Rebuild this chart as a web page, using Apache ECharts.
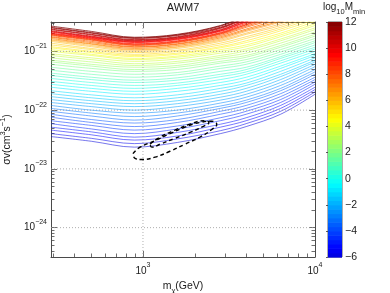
<!DOCTYPE html>
<html><head><meta charset="utf-8">
<script src="https://cdn.jsdelivr.net/npm/echarts@6/dist/echarts.min.js"></script>
<style>html,body{margin:0;padding:0;background:#fff}#c{width:390px;height:293px}</style>
</head><body><div id="c"></div>
<script>
// ---- data (log10 of sigma v in cm^3 s^-1), one array per m_chi column ----
const mChiGeV = [292, 501, 891, 1585, 2818, 3981, 6310, 10000];
const levels = [-6.00,-5.67,-5.33,-5.00,-4.67,-4.33,-4.00,-3.67,-3.33,-3.00,-2.67,-2.33,-2.00,-1.67,-1.33,-1.00,-0.67,-0.33,0.00,0.33,0.67,1.00,1.33,1.67,2.00,2.33,2.67,3.00,3.33,3.67,4.00,4.33,4.67,5.00,5.33,5.67,6.00,6.33,6.67,7.00,7.33,7.67,8.00,8.33,8.67,9.00,9.33,9.67,10.00,10.33,10.67,11.00,11.33,11.67,12.00];
const logSv_m292 = [-22.45,-22.40,-22.34,-22.29,-22.23,-22.18,-22.12,-22.07,-22.02,-21.97,-21.92,-21.87,-21.82,-21.77,-21.72,-21.67,-21.61,-21.56,-21.51,-21.46,-21.41,-21.37,-21.32,-21.27,-21.22,-21.18,-21.15,-21.11,-21.07,-21.04,-21.00,-20.97,-20.94,-20.92,-20.89,-20.86,-20.83,-20.81,-20.80,-20.78,-20.76,-20.75,-20.73,-20.72,-20.71,-20.70,-20.69,-20.67,-20.66,-20.65,-20.63,-20.62,-20.60,-20.59,-20.57];
const logSv_m501 = [-22.53,-22.48,-22.42,-22.37,-22.32,-22.26,-22.21,-22.16,-22.10,-22.05,-22.00,-21.94,-21.89,-21.84,-21.79,-21.74,-21.68,-21.63,-21.58,-21.53,-21.48,-21.44,-21.39,-21.34,-21.29,-21.25,-21.22,-21.18,-21.14,-21.11,-21.07,-21.05,-21.02,-21.00,-20.97,-20.95,-20.92,-20.90,-20.88,-20.87,-20.85,-20.83,-20.81,-20.80,-20.79,-20.78,-20.77,-20.76,-20.75,-20.74,-20.72,-20.71,-20.69,-20.68,-20.66];
const logSv_m891 = [-22.63,-22.57,-22.51,-22.46,-22.40,-22.34,-22.28,-22.22,-22.17,-22.11,-22.05,-22.00,-21.94,-21.89,-21.84,-21.79,-21.73,-21.68,-21.63,-21.58,-21.53,-21.49,-21.44,-21.39,-21.34,-21.31,-21.27,-21.24,-21.21,-21.17,-21.14,-21.12,-21.09,-21.07,-21.05,-21.02,-21.00,-20.98,-20.97,-20.95,-20.93,-20.92,-20.90,-20.89,-20.88,-20.87,-20.85,-20.84,-20.83,-20.82,-20.81,-20.80,-20.78,-20.77,-20.76];
const logSv_m1585 = [-22.55,-22.49,-22.44,-22.38,-22.32,-22.27,-22.21,-22.16,-22.10,-22.05,-22.00,-21.94,-21.89,-21.84,-21.79,-21.74,-21.68,-21.63,-21.58,-21.54,-21.49,-21.45,-21.40,-21.36,-21.31,-21.27,-21.24,-21.20,-21.17,-21.13,-21.10,-21.08,-21.05,-21.03,-21.00,-20.98,-20.95,-20.93,-20.92,-20.90,-20.88,-20.87,-20.85,-20.84,-20.83,-20.82,-20.80,-20.79,-20.78,-20.77,-20.76,-20.75,-20.73,-20.72,-20.71];
const logSv_m2818 = [-22.40,-22.35,-22.29,-22.24,-22.18,-22.13,-22.07,-22.02,-21.97,-21.93,-21.88,-21.83,-21.78,-21.73,-21.68,-21.63,-21.58,-21.53,-21.48,-21.43,-21.39,-21.34,-21.29,-21.25,-21.20,-21.17,-21.13,-21.10,-21.07,-21.03,-21.00,-20.97,-20.94,-20.92,-20.89,-20.86,-20.83,-20.81,-20.79,-20.77,-20.75,-20.73,-20.71,-20.70,-20.69,-20.68,-20.66,-20.65,-20.64,-20.63,-20.61,-20.60,-20.59,-20.57,-20.56];
const logSv_m3981 = [-22.28,-22.23,-22.18,-22.13,-22.07,-22.02,-21.97,-21.92,-21.87,-21.83,-21.78,-21.73,-21.68,-21.63,-21.58,-21.54,-21.49,-21.44,-21.39,-21.35,-21.31,-21.27,-21.22,-21.18,-21.14,-21.10,-21.07,-21.03,-20.99,-20.96,-20.92,-20.89,-20.85,-20.82,-20.78,-20.75,-20.71,-20.69,-20.66,-20.64,-20.62,-20.59,-20.57,-20.55,-20.54,-20.52,-20.50,-20.49,-20.47,-20.46,-20.44,-20.43,-20.42,-20.40,-20.39];
const logSv_m6310 = [-22.07,-22.02,-21.97,-21.92,-21.87,-21.82,-21.77,-21.72,-21.67,-21.63,-21.58,-21.53,-21.48,-21.43,-21.39,-21.34,-21.29,-21.25,-21.20,-21.16,-21.12,-21.09,-21.05,-21.01,-20.97,-20.93,-20.90,-20.86,-20.82,-20.79,-20.75,-20.72,-20.69,-20.65,-20.62,-20.59,-20.56,-20.53,-20.50,-20.48,-20.45,-20.42,-20.39,-20.37,-20.34,-20.32,-20.30,-20.27,-20.25,-20.23,-20.22,-20.20,-20.18,-20.17,-20.15];
const logSv_m10000 = [-21.73,-21.69,-21.65,-21.61,-21.56,-21.52,-21.48,-21.44,-21.39,-21.35,-21.31,-21.26,-21.22,-21.18,-21.15,-21.11,-21.07,-21.04,-21.00,-20.96,-20.93,-20.89,-20.85,-20.82,-20.78,-20.74,-20.71,-20.67,-20.63,-20.60,-20.56,-20.53,-20.49,-20.46,-20.42,-20.39,-20.35,-20.32,-20.29,-20.27,-20.24,-20.21,-20.18,-20.16,-20.14,-20.12,-20.09,-20.07,-20.05,-20.03,-20.01,-20.00,-19.98,-19.96,-19.94];
// dashed contours: [log10 m, log10 sigma v]
const outerRegion = [[2.942,-22.74],[2.983,-22.63],[3.070,-22.52],[3.157,-22.40],[3.244,-22.29],[3.331,-22.21],[3.400,-22.19],[3.429,-22.24],[3.400,-22.33],[3.331,-22.46],[3.244,-22.58],[3.157,-22.70],[3.070,-22.80],[2.994,-22.84],[2.954,-22.82],[2.942,-22.74]];
const innerRegion = [[3.041,-22.58],[3.099,-22.46],[3.186,-22.34],[3.273,-22.24],[3.360,-22.18],[3.383,-22.21],[3.348,-22.28],[3.273,-22.38],[3.186,-22.48],[3.099,-22.58],[3.052,-22.63],[3.041,-22.58]];
// axes
const xRangeGeV = [292, 10000];
const yRangeLog = [-24.5, -20.5];
const xMajorGeV = [1000, 10000];
const xMinorGeV = [300,400,500,600,700,800,900,2000,3000,4000,5000,6000,7000,8000,9000];
const yMajorExp = [-24, -23, -22, -21];
const yMinorVals = [4e-25,5e-25,6e-25,7e-25,8e-25,9e-25,2e-24,3e-24,4e-24,5e-24,6e-24,7e-24,8e-24,9e-24,2e-23,3e-23,4e-23,5e-23,6e-23,7e-23,8e-23,9e-23,2e-22,3e-22,4e-22,5e-22,6e-22,7e-22,8e-22,9e-22,2e-21,3e-21];
const cbarTicks = [-6, -4, -2, 0, 2, 4, 6, 8, 10, 12];

// ---- chart ----
const FONT = '"Liberation Sans", Arial, Helvetica, sans-serif';
const AX = '#4a4a4a', TXT = '#1a1a1a';
const cols = [logSv_m292, logSv_m501, logSv_m891, logSv_m1585, logSv_m2818, logSv_m3981, logSv_m6310, logSv_m10000];
const logM = mChiGeV.map(Math.log10);
const xMin = Math.log10(xRangeGeV[0]), xMax = Math.log10(xRangeGeV[1]);
const yMin = yRangeLog[0], yMax = yRangeLog[1];
const lvMin = levels[0], lvMax = levels[levels.length - 1];

function clamp(v){ return Math.max(0, Math.min(1, v)); }
function jet(v){
  const t = 0.09 + 0.91 * (v - lvMin) / (lvMax - lvMin);
  const r = clamp(1.5 - Math.abs(4*t - 3)), g = clamp(1.5 - Math.abs(4*t - 2)), b = clamp(1.5 - Math.abs(4*t - 1));
  return 'rgb(' + Math.round(r*255) + ',' + Math.round(g*255) + ',' + Math.round(b*255) + ')';
}
const minus = s => String(s).replace('-', '\u2212');
const supRich = {
  b: {fontSize: 10, fontFamily: FONT, color: TXT, padding: [4,0,4,0], verticalAlign: 'top'},
  s: {fontSize: 7, fontFamily: FONT, color: TXT, verticalAlign: 'top'}
};

function xAx(pos, vals, len, extra){
  return Object.assign({type:'value', gridIndex:0, min:xMin, max:xMax, position:pos,
    axisLine:{show:true, onZero:false, lineStyle:{color:AX, width:1}},
    axisTick:{show:true, inside:true, length:len, customValues: vals, lineStyle:{color:AX, width:0.8}},
    axisLabel:{show:false}, splitLine:{show:false}}, extra || {});
}
function yAx(pos, vals, len, extra){
  return Object.assign({type:'value', gridIndex:0, min:yMin, max:yMax, position:pos,
    axisLine:{show:true, onZero:false, lineStyle:{color:AX, width:1}},
    axisTick:{show:true, inside:true, length:len, customValues: vals, lineStyle:{color:AX, width:0.8}},
    axisLabel:{show:false}, splitLine:{show:false}}, extra || {});
}
const xMajor = xMajorGeV.map(Math.log10), xMinor = xMinorGeV.map(Math.log10);
const yMinor = yMinorVals.map(Math.log10);

const series = [];
levels.forEach((lv, i) => {
  series.push({type:'line', xAxisIndex:0, yAxisIndex:0, data: logM.map((m, j) => [m, cols[j][i]]),
    showSymbol:false, smooth:0.35, silent:true, z:2, clip:true,
    lineStyle:{color: jet(lv), width:0.9, opacity: lv >= 7 ? 0.85 : 0.6}});
});
// grid lines (dotted)
series.push({type:'custom', xAxisIndex:0, yAxisIndex:0, silent:true, z:4, clip:true,
  data: xMajor.filter(v => v < xMax).map(v => [v, yMin]),
  renderItem: (p, api) => { const a = api.coord([api.value(0), yMin]), b = api.coord([api.value(0), yMax]);
    return {type:'line', shape:{x1:a[0], y1:a[1], x2:b[0], y2:b[1]}, style:{stroke:'#9a9a9a', lineWidth:0.8, lineDash:[1,2]}}; }});
series.push({type:'custom', xAxisIndex:0, yAxisIndex:0, silent:true, z:4, clip:true,
  data: yMajorExp.map(v => [xMin, v]),
  renderItem: (p, api) => { const a = api.coord([xMin, api.value(1)]), b = api.coord([xMax, api.value(1)]);
    return {type:'line', shape:{x1:a[0], y1:a[1], x2:b[0], y2:b[1]}, style:{stroke:'#9a9a9a', lineWidth:0.8, lineDash:[1,2]}}; }});
// dashed regions
[outerRegion, innerRegion].forEach(d => series.push({type:'line', xAxisIndex:0, yAxisIndex:0, data:d, showSymbol:false,
  smooth:0.5, silent:true, z:6, lineStyle:{color:'#000', width:1.4, type:[4,3]}}));
// colorbar
series.push({type:'custom', xAxisIndex:4, yAxisIndex:4, silent:true,
  data: levels.slice(0, -1).map((v, i) => [v, levels[i+1]]),
  renderItem: (p, api) => { const lo = api.value(0), hi = api.value(1);
    const a = api.coord([0, lo]), b = api.coord([1, hi]);
    return {type:'rect', shape:{x:a[0], y:b[1], width:b[0]-a[0], height:a[1]-b[1]+0.6},
      style:{fill: jet((lo + hi) / 2)}}; }});

const option = {
  animation:false,
  backgroundColor:'#fff',
  title:[
    {text:'AWM7', left:183, top:2, padding:0, textAlign:'center', textStyle:{fontFamily:FONT, fontSize:11, fontWeight:'normal', color:TXT}},
    {text:'{a|log}{sub|10}{a|M}{sub|min}', left:323, top:2, padding:0,
      textStyle:{fontWeight:'normal', rich:{a:{fontFamily:FONT, fontSize:10, fontWeight:'normal', color:TXT, verticalAlign:'top'},
        sub:{fontFamily:FONT, fontSize:7.5, fontWeight:'normal', color:TXT, verticalAlign:'top', padding:[6,0,0,0]}}}}
  ],
  grid:[
    {left:51, top:22, width:264, height:235, show:false, outerBoundsMode:'none', containLabel:false},
    {left:328, top:22, width:14, height:235, show:true, borderColor:'#333', borderWidth:0.8, backgroundColor:'transparent', outerBoundsMode:'none', containLabel:false}
  ],
  xAxis:[
    xAx('bottom', xMajor, 6, {
      axisLabel:{show:true, customValues:xMajor, margin:5, formatter: v => '{b|10}{s|' + Math.round(v) + '}', rich: supRich},
      name:'{a|m}{sub|\u03c7}{a|(GeV)}', nameLocation:'middle', nameGap:18,
      nameTextStyle:{rich:{a:{fontFamily:FONT, fontSize:10.5, color:TXT, verticalAlign:'top'},
        sub:{fontFamily:FONT, fontSize:7.5, color:TXT, verticalAlign:'top', padding:[6,0,0,0]}}}}),
    xAx('bottom', xMinor, 3.5, {axisLine:{show:false}}),
    xAx('top', xMajor, 6),
    xAx('top', xMinor, 3.5, {axisLine:{show:false}}),
    {type:'value', gridIndex:1, min:0, max:1, show:false}
  ],
  yAxis:[
    yAx('left', yMajorExp, 6, {
      axisLabel:{show:true, customValues:yMajorExp, margin:4, formatter: v => '{b|10}{s|' + minus(Math.round(v)) + '}', rich: supRich},
      name:'{a|\u03c3v(cm}{s|3}{a|s}{s|\u22121}{a|)}', nameLocation:'middle', nameGap:30, nameRotate:90,
      nameTextStyle:{rich:{a:{fontFamily:FONT, fontSize:10.5, color:TXT, verticalAlign:'top', padding:[3,0,0,0]},
        s:{fontFamily:FONT, fontSize:7.5, color:TXT, verticalAlign:'top'}}}}),
    yAx('left', yMinor, 3.5, {axisLine:{show:false}}),
    yAx('right', yMajorExp, 6),
    yAx('right', yMinor, 3.5, {axisLine:{show:false}}),
    {type:'value', gridIndex:1, min:lvMin, max:lvMax, interval:2, position:'right',
      axisLine:{show:false}, splitLine:{show:false},
      axisTick:{show:true, inside:true, length:2, lineStyle:{color:'#333', width:0.8}},
      axisLabel:{show:true, margin:3, fontFamily:FONT, fontSize:10.5, color:TXT, formatter: v => minus(v),
        customValues: cbarTicks}}
  ],
  series: series
};
const chart = echarts.init(document.getElementById('c'), null, {renderer:'canvas'});
chart.setOption(option);
</script>
</body></html>
